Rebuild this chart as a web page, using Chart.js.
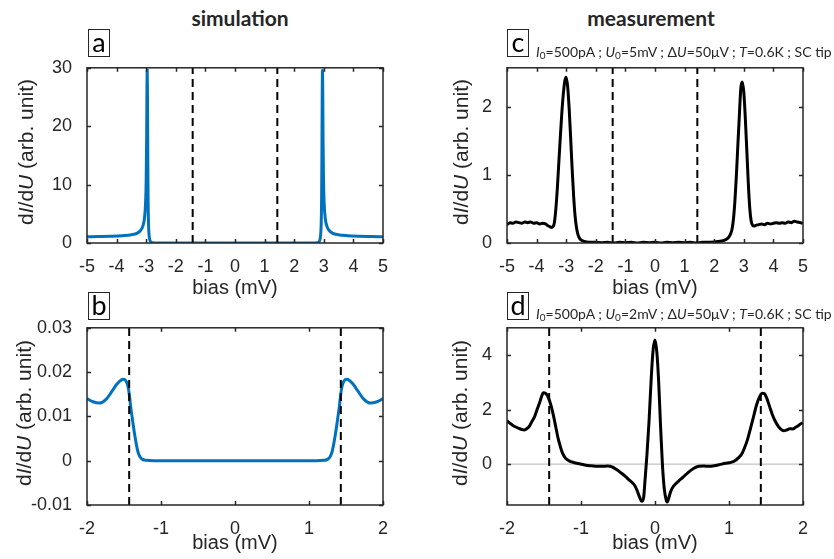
<!DOCTYPE html>
<html>
<head>
<meta charset="utf-8">
<script src="https://cdn.jsdelivr.net/npm/chart.js@4.4.1/dist/chart.umd.min.js"></script>
<style>
  body { margin: 0; background: #fff; }
  #fig { position: relative; width: 834px; height: 559px; overflow: hidden;
         font-family: "Liberation Sans", Arial, sans-serif; color: #262626; }
  #fig canvas { position: absolute; }
  .col { position: absolute; width: 200px; text-align: center; line-height: 24px;
         font: bold 21px Lato, sans-serif; color: #262626; }
  .tag { position: absolute; box-sizing: border-box; width: 22px; height: 28px;
         border: 1px solid #262626; background: #fff; text-align: center;
         font: 27px/24px Lato, sans-serif; color: #000; }
  .note { position: absolute; white-space: nowrap; line-height: 16px;
          font: 14px Lato, sans-serif; color: #262626; }
  .note sub { font-size: 10px; vertical-align: -2px; line-height: 0; }
  .ylab { position: absolute; white-space: nowrap; font-size: 21px; line-height: 24px;
          transform: translate(-50%, -50%) rotate(-90deg); }
</style>
</head>
<body>
<div id="fig">
  <canvas id="pa" width="420" height="250" style="left:0;top:50px"></canvas>
  <canvas id="pb" width="420" height="249" style="left:0;top:310px"></canvas>
  <canvas id="pc" width="414" height="250" style="left:420px;top:50px"></canvas>
  <canvas id="pd" width="414" height="249" style="left:420px;top:310px"></canvas>

  <div class="col" style="left:140px;top:5px">simulation</div>
  <div class="col" style="left:551px;top:5px">measurement</div>

  <div class="tag" style="left:88px;top:29px">a</div>
  <div class="tag" style="left:88px;top:292px">b</div>
  <div class="tag" style="left:507px;top:29px">c</div>
  <div class="tag" style="left:507px;top:292px">d</div>

  <div class="note" style="left:536px;top:43px"><i>I</i><sub>0</sub>=500pA ; <i>U</i><sub>0</sub>=5mV ; Δ<i>U</i>=50μV ; <i>T</i>=0.6K ; SC tip</div>
  <div class="note" style="left:536px;top:305px"><i>I</i><sub>0</sub>=500pA ; <i>U</i><sub>0</sub>=2mV ; Δ<i>U</i>=50μV ; <i>T</i>=0.6K ; SC tip</div>

  <div class="ylab" style="left:26px;top:152px">d<i>I</i>/d<i>U</i> (arb. unit)</div>
  <div class="ylab" style="left:24px;top:413px">d<i>I</i>/d<i>U</i> (arb. unit)</div>
  <div class="ylab" style="left:461px;top:152px">d<i>I</i>/d<i>U</i> (arb. unit)</div>
  <div class="ylab" style="left:460px;top:413px">d<i>I</i>/d<i>U</i> (arb. unit)</div>
</div>

<script>
// simulated dI/dU, wide bias window
const simWideBias = [-5, -4.6, -4.2, -3.8, -3.5, -3.3, -3.2, -3.12, -3.06, -3.02, -3.0, -2.985, -2.975, -2.965,
  -2.955, -2.945, -2.935, -2.92, -2.9, -2.87, -2.83, -2.78, -2.7, -2.5, 0,
  2.49, 2.69, 2.77, 2.82, 2.86, 2.89, 2.91, 2.925, 2.935, 2.945, 2.955, 2.965, 2.975, 2.99, 3.01, 3.05, 3.11, 3.19,
  3.29, 3.49, 3.8, 4.2, 4.6, 5];
const simWideDidu = [1.06, 1.1, 1.15, 1.25, 1.42, 1.7, 2.1, 2.8, 4.2, 7.0, 11, 18, 26, 29.6,
  24, 14, 7, 3, 1.2, 0.4, 0.12, 0.03, 0.005, 0, 0,
  0, 0.005, 0.03, 0.12, 0.4, 1.2, 3, 7, 14, 24, 29.6, 26, 18, 11, 7.0, 4.2, 2.8, 2.1,
  1.7, 1.42, 1.25, 1.15, 1.1, 1.06];

// simulated dI/dU, narrow bias window
const simGapBias = [-2, -1.92, -1.83, -1.74, -1.65, -1.6, -1.56, -1.53, -1.5, -1.47, -1.445, -1.425, -1.41, -1.39,
  -1.375, -1.355, -1.33, -1.31, -1.285, -1.25, -1.2, -1.1, 0,
  1.1, 1.2, 1.25, 1.285, 1.31, 1.33, 1.355, 1.375, 1.39, 1.41, 1.425, 1.445, 1.47, 1.5, 1.53, 1.56, 1.6, 1.65,
  1.74, 1.83, 1.92, 2];
const simGapDidu = [0.0140, 0.0133, 0.0130, 0.0139, 0.0160, 0.0172, 0.0179, 0.0183, 0.0184, 0.0179, 0.0167, 0.0145,
  0.0122, 0.0098, 0.0080, 0.0058, 0.0034, 0.0019, 0.0009, 0.0003, 0.0001, 0, 0,
  0, 0.0001, 0.0003, 0.0009, 0.0019, 0.0034, 0.0058, 0.0080, 0.0098, 0.0122, 0.0145, 0.0167, 0.0179, 0.0184,
  0.0183, 0.0179, 0.0172, 0.0160, 0.0139, 0.0130, 0.0133, 0.0140];

// measured dI/dU, U0 = 5 mV
const measWideBias = [-5, -4.9, -4.8, -4.7, -4.6, -4.5, -4.4, -4.3, -4.2, -4.1, -4.0, -3.9, -3.8, -3.7, -3.6, -3.55,
  -3.5, -3.45, -3.4, -3.35, -3.3, -3.25, -3.2, -3.15, -3.1, -3.05, -3.0, -2.95, -2.9, -2.85, -2.8, -2.75, -2.7,
  -2.65, -2.6, -2.55, -2.5, -2.4, -2.3, -2.2, -2.0, -1.8, -1.6, -1.4, -1.2, -1.0, -0.8, -0.6, -0.4, -0.2, 0,
  0.2, 0.4, 0.6, 0.8, 1.0, 1.2, 1.4, 1.6, 1.8, 2.0, 2.2, 2.3, 2.4, 2.5, 2.55, 2.6, 2.65, 2.7, 2.75, 2.8, 2.85,
  2.9, 2.95, 3.0, 3.05, 3.1, 3.15, 3.2, 3.25, 3.3, 3.35, 3.4, 3.5, 3.6, 3.7, 3.8, 3.9, 4.0, 4.1, 4.2, 4.3, 4.4,
  4.5, 4.6, 4.7, 4.8, 4.9, 5.0];
const measWideDidu = [0.27, 0.30, 0.29, 0.31, 0.30, 0.29, 0.31, 0.30, 0.31, 0.29, 0.30, 0.28, 0.29, 0.28, 0.25, 0.24,
  0.23, 0.24, 0.30, 0.50, 0.80, 1.18, 1.55, 1.90, 2.18, 2.38, 2.44, 2.30, 1.98, 1.55, 1.10, 0.70, 0.40,
  0.22, 0.12, 0.07, 0.045, 0.025, 0.015, 0.01, 0.01, 0.005, 0.01, 0.0, 0.01, 0.005, 0.01, 0.0, 0.01, 0.005, 0.01,
  0.0, 0.01, 0.005, 0.01, 0.005, 0.01, 0.0, 0.01, 0.01, 0.015, 0.025, 0.035, 0.05, 0.09, 0.13, 0.2, 0.35, 0.62,
  1.0, 1.45, 1.88, 2.28, 2.37, 2.22, 1.85, 1.38, 0.90, 0.52, 0.32, 0.26, 0.25, 0.26, 0.27, 0.28, 0.27, 0.29,
  0.28, 0.29, 0.30, 0.29, 0.30, 0.29, 0.31, 0.30, 0.32, 0.31, 0.30, 0.29];

// measured dI/dU, U0 = 2 mV
const measGapBias = [-2.0, -1.96, -1.92, -1.88, -1.84, -1.8, -1.77, -1.74, -1.7, -1.66, -1.63, -1.6, -1.56, -1.53,
  -1.51, -1.48, -1.45, -1.42, -1.4, -1.37, -1.34, -1.31, -1.28, -1.25, -1.21, -1.16, -1.1, -1.02, -0.95, -0.88,
  -0.8, -0.72, -0.64, -0.58, -0.52, -0.46, -0.4, -0.35, -0.3, -0.27, -0.24, -0.21, -0.18, -0.155, -0.135, -0.11,
  -0.08, -0.05, -0.025, 0.0, 0.025, 0.05, 0.075, 0.1, 0.125, 0.15, 0.165, 0.185, 0.21, 0.24, 0.28, 0.32, 0.38,
  0.45, 0.52, 0.59, 0.66, 0.73, 0.8, 0.87, 0.95, 1.02, 1.08, 1.13, 1.17, 1.21, 1.25, 1.29, 1.33, 1.37, 1.41,
  1.45, 1.48, 1.51, 1.55, 1.58, 1.62, 1.66, 1.7, 1.74, 1.78, 1.82, 1.86, 1.9, 1.94, 1.97, 2.0];
const measGapDidu = [1.59, 1.50, 1.42, 1.36, 1.31, 1.27, 1.25, 1.29, 1.38, 1.58, 1.72, 1.95, 2.25, 2.50,
  2.62, 2.60, 2.50, 2.28, 2.10, 1.75, 1.35, 0.95, 0.65, 0.40, 0.22, 0.12, 0.06, 0.01, -0.03, -0.06,
  -0.08, -0.08, -0.07, -0.10, -0.20, -0.32, -0.45, -0.58, -0.70, -0.80, -0.98, -1.20, -1.36, -1.25, -0.6, 0.3,
  1.6, 3.2, 4.2, 4.55, 4.1, 3.0, 1.4, 0.0, -0.9, -1.3, -1.39, -1.25, -1.02, -0.85, -0.72, -0.62, -0.48,
  -0.30, -0.16, -0.08, -0.07, -0.08, -0.06, -0.02, 0.03, 0.06, 0.12, 0.24, 0.36, 0.6, 0.90, 1.30, 1.72, 2.15, 2.45,
  2.60, 2.58, 2.42, 2.10, 1.86, 1.60, 1.41, 1.28, 1.22, 1.25, 1.30, 1.29, 1.35, 1.42, 1.48, 1.52];

// coherence-peak markers (dashed verticals)
const gapEdges = [-1.43, 1.43];

const textColor = '#262626';

// box around the axes with inward tick marks on all four sides
const boxFrame = {
  id: 'boxFrame',
  afterDatasetsDraw(chart) {
    const { ctx, chartArea: a, scales: { x, y } } = chart;
    const len = 4;
    ctx.save();
    ctx.strokeStyle = textColor;
    ctx.lineWidth = 1.5;
    ctx.beginPath();
    x.ticks.forEach(t => {
      const px = Math.round(x.getPixelForValue(t.value)) + 0.5;
      ctx.moveTo(px, a.bottom); ctx.lineTo(px, a.bottom - len);
      ctx.moveTo(px, a.top); ctx.lineTo(px, a.top + len);
    });
    y.ticks.forEach(t => {
      const py = Math.round(y.getPixelForValue(t.value)) + 0.5;
      ctx.moveTo(a.left, py); ctx.lineTo(a.left + len, py);
      ctx.moveTo(a.right, py); ctx.lineTo(a.right - len, py);
    });
    ctx.stroke();
    ctx.strokeRect(a.left, a.top, a.right - a.left, a.bottom - a.top);
    ctx.restore();
  }
};

function toPoints(xs, ys) {
  return xs.map((v, i) => ({ x: v, y: ys[i] }));
}

function makePanel(id, cfg) {
  const datasets = [];
  gapEdges.forEach(e => datasets.push({
    data: [{ x: e, y: cfg.yMin }, { x: e, y: cfg.yMax }],
    borderColor: '#000', borderWidth: 2, borderDash: [8, 5], pointRadius: 0, order: 0
  }));
  datasets.push({
    data: toPoints(cfg.bias, cfg.didu),
    borderColor: cfg.color, borderWidth: 3, pointRadius: 0,
    cubicInterpolationMode: 'monotone', order: 1
  });
  if (cfg.zeroLine) {
    datasets.push({
      data: [{ x: cfg.xMin, y: 0 }, { x: cfg.xMax, y: 0 }],
      borderColor: '#b4b4b4', borderWidth: 1, pointRadius: 0, order: 2
    });
  }
  const tickFont = { family: '"Liberation Sans", Arial, sans-serif', size: 18 };
  return new Chart(document.getElementById(id), {
    type: 'line',
    data: { datasets },
    options: {
      responsive: false,
      animation: false,
      devicePixelRatio: 1,
      layout: { padding: { left: 0, top: cfg.padTop, right: cfg.padRight, bottom: 0 } },
      plugins: { legend: { display: false }, tooltip: { enabled: false } },
      scales: {
        x: {
          type: 'linear', min: cfg.xMin, max: cfg.xMax,
          grid: { display: false }, border: { display: false },
          ticks: { stepSize: 1, includeBounds: false, padding: 5, color: textColor, font: tickFont },
          title: { display: true, text: 'bias (mV)', color: textColor, padding: { top: 0, bottom: cfg.titlePad },
                   font: { family: '"Liberation Sans", Arial, sans-serif', size: 20, lineHeight: 1 } },
          afterFit: s => { s.height = cfg.xAxisH; }
        },
        y: {
          type: 'linear', min: cfg.yMin, max: cfg.yMax,
          grid: { display: false }, border: { display: false },
          ticks: { stepSize: cfg.yStep, includeBounds: false, padding: 7, color: textColor, font: tickFont },
          afterFit: s => { s.width = cfg.yAxisW; }
        }
      }
    },
    plugins: [boxFrame]
  });
}

const blue = '#0072BD';

makePanel('pa', { bias: simWideBias, didu: simWideDidu, color: blue,
  xMin: -5, xMax: 5, yMin: 0, yMax: 30, yStep: 10,
  padTop: 11, padRight: 37, yAxisW: 87, xAxisH: 57, titlePad: 2 });
makePanel('pb', { bias: simGapBias, didu: simGapDidu, color: blue,
  xMin: -2, xMax: 2, yMin: -0.01, yMax: 0.03, yStep: 0.01,
  padTop: 12, padRight: 37, yAxisW: 87, xAxisH: 54, titlePad: 6 });
makePanel('pc', { bias: measWideBias, didu: measWideDidu, color: '#000',
  xMin: -5, xMax: 5, yMin: 0, yMax: 2.58, yStep: 1,
  padTop: 11, padRight: 31, yAxisW: 87, xAxisH: 57, titlePad: 2 });
makePanel('pd', { bias: measGapBias, didu: measGapDidu, color: '#000', zeroLine: true,
  xMin: -2, xMax: 2, yMin: -1.5, yMax: 5, yStep: 2,
  padTop: 12, padRight: 31, yAxisW: 87, xAxisH: 54, titlePad: 6 });
</script>
</body>
</html>
